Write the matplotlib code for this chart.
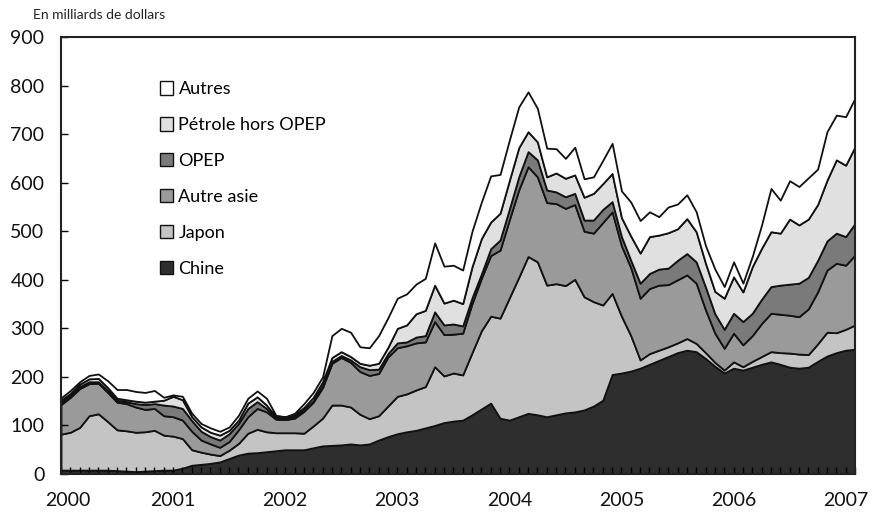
import numpy as np
import matplotlib
matplotlib.use("Agg")
import matplotlib.pyplot as plt
from matplotlib.patches import Patch
from matplotlib.ticker import MultipleLocator
from matplotlib.transforms import ScaledTranslation

plt.rcParams['font.family'] = ['Lato', 'DejaVu Sans']

# Monthly data, Jan 2000 - Feb 2007 (billions of dollars)
chine = [8, 8, 8, 8, 8, 8, 7, 6, 5, 6, 7, 8, 8, 12, 18, 20, 22, 25, 32, 39,
         43, 44, 46, 48, 50, 50, 50, 54, 58, 59, 60, 62, 60, 62, 70, 77, 83, 87, 90, 95,
         100, 106, 109, 111, 122, 134, 146, 115, 111, 118, 125, 122, 118, 122, 126, 128, 132, 140, 152, 205,
         208, 212, 218, 226, 234, 242, 250, 255, 252, 238, 222, 208, 218, 214, 220, 226, 231, 226, 220, 218,
         220, 232, 243, 250, 255, 257]
japon = [74, 78, 88, 112, 116, 100, 84, 83, 81, 81, 83, 72, 70, 61, 32, 25, 19, 13, 17, 24,
         41, 48, 41, 37, 35, 35, 34, 45, 57, 83, 82, 76, 63, 52, 50, 63, 77, 78, 83, 85,
         121, 96, 99, 93, 128, 161, 179, 206, 252, 287, 323, 315, 271, 270, 262, 273, 233, 215, 196, 167,
         117, 73, 17, 22, 21, 20, 20, 24, 17, 12, 8, 6, 13, 7, 12, 16, 21, 24, 29, 29,
         26, 36, 49, 41, 43, 50]
autre_asie = [61, 72, 80, 66, 63, 60, 57, 56, 52, 46, 45, 40, 40, 38, 38, 25, 21, 17, 18, 28,
              34, 43, 41, 28, 27, 30, 45, 49, 63, 86, 98, 92, 88, 89, 87, 101, 100, 99, 97, 92,
              93, 85, 80, 86, 101, 108, 125, 140, 161, 180, 185, 175, 170, 165, 159, 154, 135, 141, 170, 168,
              145, 140, 127, 134, 134, 128, 130, 131, 124, 88, 60, 45, 59, 45, 53, 68, 79, 79, 78, 77,
              94, 107, 128, 143, 132, 144]
opep = [5, 4, 4, 4, 3, 4, 4, 4, 7, 10, 10, 22, 22, 24, 22, 18, 15, 15, 16, 13,
        17, 14, 7, 1, 3, 3, 3, 3, 4, 4, 4, 5, 10, 12, 9, 7, 10, 8, 12, 13,
        20, 20, 21, 15, 12, 9, 14, 21, 22, 27, 31, 35, 26, 24, 24, 23, 23, 27, 27, 21,
        19, 15, 31, 31, 33, 34, 40, 44, 44, 47, 40, 39, 41, 48, 46, 50, 55, 60, 64, 69,
        65, 65, 60, 62, 59, 65]
petrole_hors_opep = [4, 4, 5, 6, 7, 6, 4, 4, 5, 5, 5, 10, 20, 18, 8, 9, 9, 10, 7, 7,
                     11, 10, 7, 4, 2, 4, 5, 7, 8, 8, 8, 7, 7, 9, 12, 13, 30, 35, 48, 52,
                     55, 45, 49, 46, 64, 73, 55, 55, 59, 60, 41, 37, 27, 39, 38, 38, 47, 55, 53, 58,
                     39, 50, 62, 76, 70, 73, 65, 72, 62, 49, 46, 64, 75, 61, 96, 105, 113, 107, 134, 120,
                     120, 115, 125, 151, 147, 158]
autres = [5, 6, 5, 7, 9, 14, 18, 21, 20, 20, 22, 6, 3, 7, 7, 7, 9, 8, 7, 10,
          10, 12, 14, 3, 1, 3, 8, 10, 10, 45, 48, 50, 34, 36, 57, 61, 62, 64, 61, 66,
          87, 76, 72, 69, 73, 75, 95, 80, 83, 84, 82, 69, 59, 50, 41, 57, 38, 34, 48, 62,
          55, 70, 67, 51, 38, 53, 51, 49, 41, 36, 46, 24, 31, 18, 21, 48, 89, 68, 79, 79,
          85, 73, 100, 92, 100, 100]

series = [chine, japon, autre_asie, opep, petrole_hors_opep, autres]
labels = ["Chine", "Japon", "Autre asie", "OPEP", "Pétrole hors OPEP", "Autres"]
colors = ["#2e2e2e", "#c4c4c4", "#9a9a9a", "#7a7a7a", "#e0e0e0", "#ffffff"]
years = ["2000", "2001", "2002", "2003", "2004", "2005", "2006", "2007"]

x = np.arange(len(chine))

fig = plt.figure(figsize=(8.75, 5.17), dpi=100)
ax = fig.add_axes([61/875, 1 - 474/517, 794/875, 437/517])

ax.stackplot(x, *series, colors=colors, edgecolor="#111111", linewidth=1.3)

ax.set_xlim(0, len(x) - 1)
ax.set_ylim(0, 900)

ax.set_yticks(np.arange(0, 901, 100))
ax.tick_params(axis="y", direction="in", length=5, width=1, labelsize=14, pad=12)
ax.set_xticks(np.arange(0, 85, 12))
ax.set_xticklabels(years)
ax.xaxis.set_minor_locator(MultipleLocator(1))
ax.tick_params(axis="x", which="both", direction="in", length=5, width=1,
               labelsize=14, pad=13)
for lab in ax.get_xticklabels():
    lab.set_color("#111111")
for lab in ax.get_yticklabels():
    lab.set_color("#111111")
first = ax.get_xticklabels()[0]
first.set_transform(first.get_transform() + ScaledTranslation(0.07, 0, fig.dpi_scale_trans))

for sp in ax.spines.values():
    sp.set_linewidth(1.5)
    sp.set_color("#222222")

handles = [Patch(facecolor=c, edgecolor="#111111", linewidth=1.0) for c in colors]
leg = ax.legend(handles[::-1], labels[::-1], loc="upper left",
                bbox_to_anchor=(0.115, 0.915), frameon=False, fontsize=13,
                handlelength=0.75, handleheight=0.75, handletextpad=0.3,
                labelspacing=1.1, borderaxespad=0)

fig.text(33/875, 1 - 15/517, "En milliards de dollars", fontsize=10,
         va="center", ha="left", color="#222222")

fig.savefig("out.png", dpi=100)
